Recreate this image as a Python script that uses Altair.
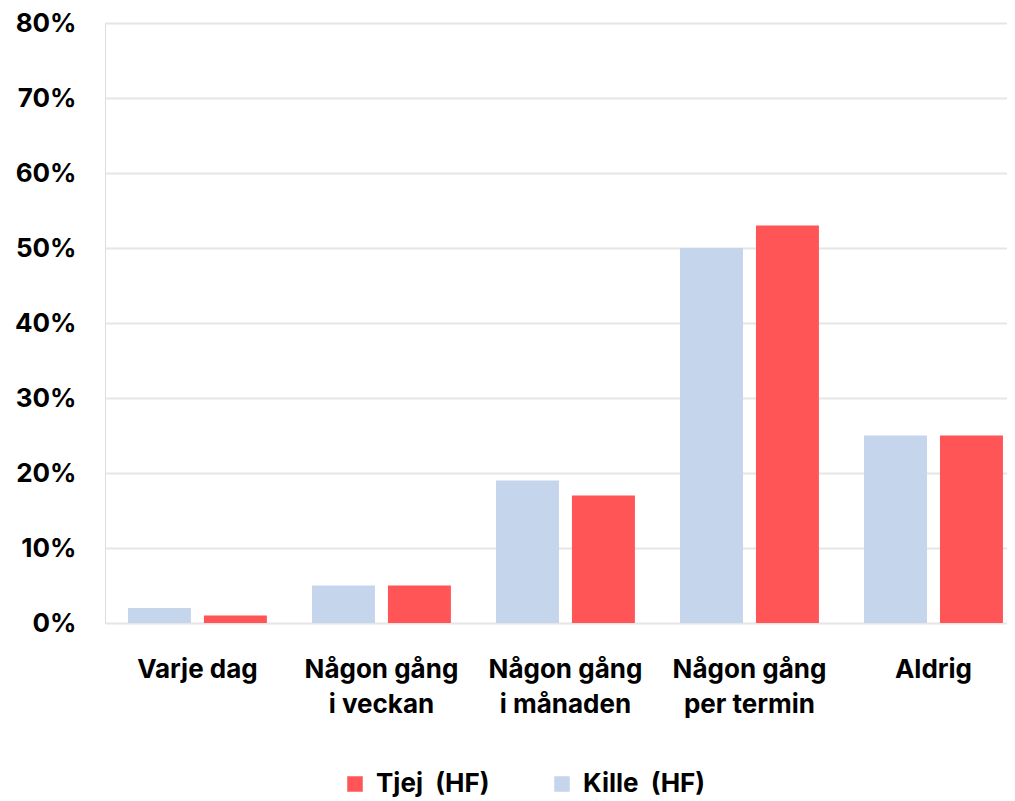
import altair as alt
import pandas as pd

categories = ["Varje dag", "Någon gång|i veckan", "Någon gång|i månaden", "Någon gång|per termin", "Aldrig"]
kille = [2, 5, 19, 50, 25]
tjej = [1, 5, 17, 53, 25]
series = ["Tjej\u00a0 (HF)", "Kille\u00a0 (HF)"]
colors = ["#FF5557", "#C5D5EC"]
y_ticks = [0, 10, 20, 30, 40, 50, 60, 70, 80]

rows = []
for c, k, t in zip(categories, kille, tjej):
    rows.append({"kat": c, "serie": series[1], "v": k})
    rows.append({"kat": c, "serie": series[0], "v": t})
df = pd.DataFrame(rows)

FONT = "Inter"
FS = 26
FW = 700

chart = alt.Chart(df).mark_bar().encode(
    x=alt.X("kat:N", sort=categories, title=None,
            scale=alt.Scale(paddingInner=0.245, paddingOuter=0.0734, align=0.85),
            axis=alt.Axis(labelExpr="split(datum.label, '|')", labelAngle=0,
                          labelFontSize=FS, labelFont=FONT, labelFontWeight=FW,
                          labelColor="#000000", labelPadding=33, labelLineHeight=35,
                          domain=False, ticks=False, grid=False, labelBaseline="top")),
    xOffset=alt.XOffset("serie:N", sort=[series[1], series[0]],
                        scale=alt.Scale(paddingInner=0.171, paddingOuter=0)),
    y=alt.Y("v:Q", title=None,
            scale=alt.Scale(domain=[0, 80], nice=False),
            axis=alt.Axis(values=y_ticks, labelExpr="datum.value + '%'",
                          labelFontSize=FS, labelFont=FONT, labelFontWeight=FW,
                          labelColor="#000000", labelPadding=29, minExtent=97,
                          domain=False, ticks=False, gridColor="#e6e6e6", gridWidth=2)),
    color=alt.Color("serie:N", title=None,
                    scale=alt.Scale(domain=series, range=colors),
                    legend=alt.Legend(orient="none", legendX=237, legendY=748,
                                      direction="horizontal", symbolType="square",
                                      symbolSize=240, symbolStrokeWidth=0,
                                      labelFontSize=FS, labelFont=FONT, labelFontWeight=FW,
                                      labelColor="#000000", columnPadding=59, labelOffset=8)),
).properties(width=902, height=600).configure_view(stroke=None).configure(padding={"top": 2, "left": 0, "right": 0, "bottom": 0})

chart.save("out.html", embed_options={"renderer": "svg", "actions": False})
